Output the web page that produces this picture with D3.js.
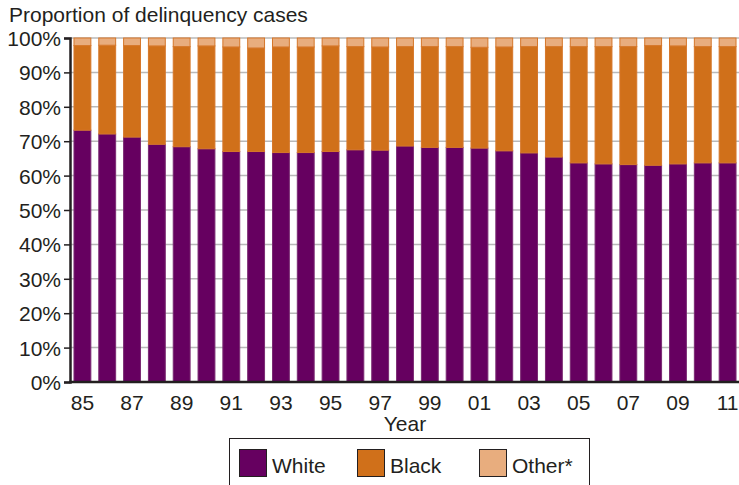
<!DOCTYPE html>
<html>
<head>
<meta charset="utf-8">
<script src="https://cdn.jsdelivr.net/npm/d3@7"></script>
<style>
  body { margin: 0; background: #fff; }
  svg text { font-family: "Liberation Sans", Arial, Helvetica, sans-serif; fill: #231f20; }
</style>
</head>
<body>
<svg id="chart" width="739" height="485"></svg>
<script>
// years 1985-2011, shares in percent
var years = [1985,1986,1987,1988,1989,1990,1991,1992,1993,1994,1995,1996,1997,1998,1999,2000,2001,2002,2003,2004,2005,2006,2007,2008,2009,2010,2011];
var white = [73.2,72.1,71.2,69.1,68.4,67.8,67.0,67.0,66.7,66.7,67.0,67.5,67.4,68.6,68.2,68.2,68.0,67.2,66.6,65.4,63.7,63.4,63.2,63.0,63.4,63.7,63.7];
var black = [24.6,25.8,26.6,28.6,29.1,29.9,30.4,30.1,30.7,30.7,30.7,30.0,30.0,28.9,29.3,29.3,29.3,30.2,30.9,32.1,33.8,34.1,34.3,34.8,34.3,33.8,33.8];
var other = [2.2,2.1,2.2,2.3,2.5,2.3,2.6,2.9,2.6,2.6,2.3,2.5,2.6,2.5,2.5,2.5,2.7,2.6,2.5,2.5,2.5,2.5,2.5,2.2,2.3,2.5,2.5];
var yTicks = [0,10,20,30,40,50,60,70,80,90,100];
var seriesNames = ["White", "Black", "Other*"];
var colors = ["#660060", "#d0701a", "#e8ad7e"];
var strokes = ["#7a2a72", "#d6772a", "#d6772a"];

var svg = d3.select("#chart");
var plotLeft = 70, plotRight = 740, plotTop = 38, plotBottom = 382;
var fontSize = 21;

var x = d3.scaleBand().domain(years).range([plotLeft, plotRight]).paddingInner(0.28).paddingOuter(0.14);
var y = d3.scaleLinear().domain([0, 100]).range([plotBottom, plotTop]);

var rows = years.map(function (yr, i) {
	return {year: yr, White: white[i], Black: black[i], "Other*": other[i]};
});
var stacked = d3.stack().keys(seriesNames)(rows);

//gridlines
svg.append("g")
	.selectAll("line")
	.data(yTicks.slice(1))
	.enter().append("line")
	.attr("x1", plotLeft).attr("x2", 739)
	.attr("y1", function (d) { return y(d); })
	.attr("y2", function (d) { return y(d); })
	.attr("stroke", "#b9b9b9")
	.attr("stroke-width", 1.5);

//bars
svg.append("g")
	.selectAll("g")
	.data(stacked)
	.enter().append("g")
	.each(function (s, k) {
		d3.select(this).selectAll("rect")
			.data(s)
			.enter().append("rect")
			.attr("x", function (d) { return x(d.data.year) + 0.5; })
			.attr("width", x.bandwidth() - 1)
			.attr("y", function (d) { return y(d[1]); })
			.attr("height", function (d) { return y(d[0]) - y(d[1]); })
			.attr("fill", colors[k])
			.attr("stroke", strokes[k])
			.attr("stroke-width", 1);
	});

//y axis
var yAxis = svg.append("g")
	.attr("transform", "translate(" + plotLeft + ",0)")
	.call(d3.axisLeft(y).tickValues(yTicks).tickSize(6).tickPadding(3).tickFormat(function (d) { return d + "%"; }));
yAxis.select(".domain").attr("stroke", "#231f20").attr("stroke-width", 2.5);
yAxis.selectAll(".tick line").attr("stroke", "#231f20").attr("stroke-width", 1.5);
yAxis.selectAll(".tick text")
	.attr("font-size", fontSize)
	.attr("font-family", "'Liberation Sans', Arial, sans-serif")
	.attr("dy", "0.36em")
	.style("fill", "#231f20");

//x axis
svg.append("line")
	.attr("x1", plotLeft - 1).attr("x2", 739)
	.attr("y1", plotBottom).attr("y2", plotBottom)
	.attr("stroke", "#231f20").attr("stroke-width", 2.5);

svg.append("g")
	.selectAll("text")
	.data(years.filter(function (d, i) { return i % 2 == 0; }))
	.enter().append("text")
	.attr("x", function (d) { return x(d) + x.bandwidth() / 2; })
	.attr("y", 410)
	.attr("text-anchor", "middle")
	.attr("font-size", fontSize)
	.text(function (d) { return String(d).slice(2); });

svg.append("text")
	.attr("x", 405).attr("y", 431)
	.attr("text-anchor", "middle")
	.attr("font-size", fontSize)
	.text("Year");

svg.append("text")
	.attr("x", 9).attr("y", 22)
	.attr("font-size", fontSize)
	.text("Proportion of delinquency cases");

//legend
var legend = svg.append("g");
legend.append("rect")
	.attr("x", 229.5).attr("y", 438.5)
	.attr("width", 360).attr("height", 60)
	.attr("fill", "#fff")
	.attr("stroke", "#231f20").attr("stroke-width", 1);

var legendX = [239, 357, 479];
seriesNames.forEach(function (name, k) {
	legend.append("rect")
		.attr("x", legendX[k] + 0.5).attr("y", 449.5)
		.attr("width", 27).attr("height", 27)
		.attr("fill", colors[k])
		.attr("stroke", "#231f20").attr("stroke-width", 1);
	legend.append("text")
		.attr("x", legendX[k] + 33).attr("y", 473)
		.attr("font-size", fontSize)
		.text(name);
});
</script>
</body>
</html>
